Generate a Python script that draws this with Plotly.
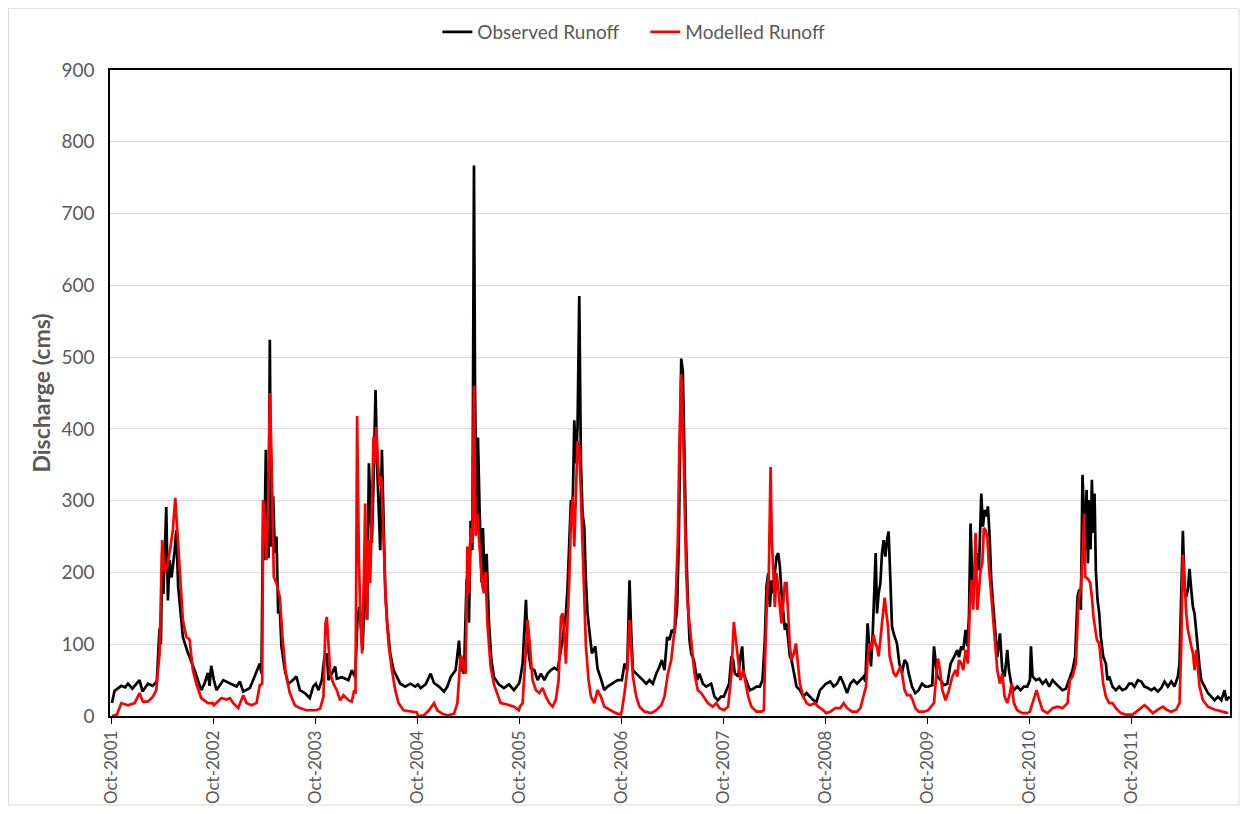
import pandas as pd
import plotly.graph_objects as go

# Observed runoff (decimal calendar year, discharge in cms)
obs_year = [
    2001.750, 2001.776, 2001.842, 2001.880, 2001.907, 2001.950, 2002.021, 2002.050, 2002.103, 2002.150, 2002.190, 2002.217, 2002.230, 2002.243, 2002.255, 2002.283, 2002.299, 2002.315, 2002.335, 2002.365, 2002.381, 2002.400, 2002.446, 2002.495, 2002.560, 2002.626, 2002.658, 2002.691, 2002.708, 2002.724,
    2002.750, 2002.776, 2002.842, 2002.907, 2002.972, 2003.005, 2003.038, 2003.103, 2003.152, 2003.201, 2003.217, 2003.234, 2003.243, 2003.260, 2003.273, 2003.286, 2003.299, 2003.312, 2003.332, 2003.348, 2003.364, 2003.381, 2003.397, 2003.413, 2003.446, 2003.479, 2003.511, 2003.560, 2003.593, 2003.642, 2003.691, 2003.724,
    2003.750, 2003.776, 2003.809, 2003.835, 2003.858, 2003.874, 2003.907, 2003.940, 2003.956, 2004.005, 2004.070, 2004.103, 2004.136, 2004.158, 2004.175, 2004.191, 2004.208, 2004.224, 2004.237, 2004.253, 2004.270, 2004.286, 2004.299, 2004.315, 2004.335, 2004.351, 2004.364, 2004.381, 2004.397, 2004.413, 2004.430, 2004.449, 2004.479, 2004.511, 2004.544, 2004.577, 2004.626, 2004.675, 2004.724,
    2004.750, 2004.776, 2004.825, 2004.874, 2004.907, 2004.956, 2005.005, 2005.038, 2005.070, 2005.119, 2005.152, 2005.168, 2005.201, 2005.227, 2005.250, 2005.266, 2005.283, 2005.299, 2005.309, 2005.325, 2005.338, 2005.355, 2005.374, 2005.387, 2005.404, 2005.423, 2005.446, 2005.469, 2005.495, 2005.544, 2005.593, 2005.642, 2005.691, 2005.740,
    2005.750, 2005.776, 2005.809, 2005.825, 2005.858, 2005.891, 2005.923, 2005.956, 2005.989, 2006.021, 2006.054, 2006.087, 2006.119, 2006.168, 2006.201, 2006.217, 2006.234, 2006.250, 2006.266, 2006.283, 2006.299, 2006.315, 2006.332, 2006.348, 2006.364, 2006.381, 2006.397, 2006.413, 2006.430, 2006.456, 2006.489, 2006.511, 2006.544, 2006.577, 2006.609, 2006.658, 2006.708,
    2006.750, 2006.776, 2006.802, 2006.825, 2006.842, 2006.858, 2006.891, 2006.923, 2006.956, 2006.989, 2007.021, 2007.054, 2007.087, 2007.119, 2007.142, 2007.168, 2007.194, 2007.217, 2007.240, 2007.266, 2007.292, 2007.309, 2007.322, 2007.332, 2007.348, 2007.364, 2007.381, 2007.397, 2007.413, 2007.430, 2007.456, 2007.489, 2007.511, 2007.544, 2007.577, 2007.626, 2007.658, 2007.691, 2007.724,
    2007.750, 2007.776, 2007.802, 2007.825, 2007.842, 2007.858, 2007.891, 2007.913, 2007.930, 2007.946, 2007.972, 2008.005, 2008.038, 2008.070, 2008.103, 2008.129, 2008.152, 2008.168, 2008.185, 2008.201, 2008.217, 2008.234, 2008.250, 2008.266, 2008.283, 2008.299, 2008.315, 2008.332, 2008.348, 2008.364, 2008.381, 2008.397, 2008.413, 2008.436, 2008.462, 2008.495, 2008.528, 2008.560, 2008.593, 2008.626, 2008.658, 2008.691, 2008.724,
    2008.750, 2008.792, 2008.825, 2008.858, 2008.891, 2008.923, 2008.956, 2008.989, 2009.021, 2009.054, 2009.087, 2009.119, 2009.136, 2009.158, 2009.175, 2009.191, 2009.208, 2009.224, 2009.237, 2009.250, 2009.266, 2009.283, 2009.299, 2009.315, 2009.332, 2009.348, 2009.364, 2009.381, 2009.397, 2009.413, 2009.446, 2009.469, 2009.495, 2009.521, 2009.544, 2009.560, 2009.593, 2009.626, 2009.658, 2009.691, 2009.724,
    2009.750, 2009.792, 2009.809, 2009.825, 2009.842, 2009.874, 2009.907, 2009.940, 2009.972, 2010.005, 2010.038, 2010.054, 2010.077, 2010.096, 2010.119, 2010.136, 2010.152, 2010.168, 2010.185, 2010.201, 2010.217, 2010.234, 2010.250, 2010.273, 2010.289, 2010.306, 2010.322, 2010.338, 2010.355, 2010.371, 2010.387, 2010.407, 2010.430, 2010.456, 2010.479, 2010.502, 2010.528, 2010.544, 2010.567, 2010.593, 2010.626, 2010.658, 2010.691, 2010.724,
    2010.750, 2010.760, 2010.776, 2010.809, 2010.842, 2010.874, 2010.907, 2010.940, 2010.972, 2011.005, 2011.038, 2011.070, 2011.103, 2011.136, 2011.168, 2011.194, 2011.217, 2011.234, 2011.250, 2011.266, 2011.279, 2011.292, 2011.306, 2011.319, 2011.332, 2011.345, 2011.358, 2011.371, 2011.384, 2011.397, 2011.413, 2011.430, 2011.446, 2011.469, 2011.495, 2011.511, 2011.528, 2011.560, 2011.593, 2011.626, 2011.658, 2011.691, 2011.724,
    2011.750, 2011.776, 2011.809, 2011.842, 2011.874, 2011.907, 2011.940, 2011.972, 2012.005, 2012.038, 2012.070, 2012.103, 2012.136, 2012.168, 2012.201, 2012.217, 2012.234, 2012.250, 2012.266, 2012.283, 2012.299, 2012.315, 2012.332, 2012.348, 2012.364, 2012.381, 2012.397, 2012.413, 2012.430, 2012.462, 2012.495, 2012.528, 2012.560, 2012.593, 2012.626, 2012.658, 2012.675, 2012.708,
]
obs_cms = [
    18, 35, 42, 40, 45, 38, 50, 34, 45, 42, 48, 122, 100, 227, 170, 291, 161, 217, 193, 230, 259, 180, 110, 88, 64, 36, 45, 60, 42, 70,
    50, 36, 50, 46, 41, 48, 34, 39, 55, 73, 59, 301, 217, 371, 227, 220, 524, 236, 306, 227, 250, 143, 148, 97, 64, 45, 48, 55, 36, 32, 25, 41,
    45, 36, 50, 83, 87, 50, 59, 69, 52, 54, 50, 64, 54, 134, 152, 130, 92, 152, 231, 134, 352, 301, 241, 324, 454, 347, 301, 231, 371, 273, 176, 129, 87, 64, 55, 45, 41, 45, 41,
    44, 39, 44, 59, 46, 41, 34, 41, 54, 64, 105, 68, 59, 191, 130, 272, 231, 767, 459, 262, 388, 282, 186, 262, 181, 226, 130, 79, 54, 44, 39, 44, 36, 45,
    50, 73, 162, 97, 66, 64, 50, 59, 50, 59, 64, 67, 64, 106, 143, 180, 236, 301, 280, 412, 352, 403, 585, 352, 282, 264, 189, 143, 120, 87, 97, 66, 52, 36, 41, 45, 50,
    50, 73, 64, 189, 115, 64, 59, 55, 50, 45, 50, 45, 59, 69, 78, 64, 110, 106, 120, 115, 152, 250, 408, 498, 480, 338, 236, 162, 106, 87, 78, 50, 59, 45, 41, 45, 27, 22, 27,
    27, 36, 45, 83, 78, 59, 55, 83, 97, 59, 50, 36, 38, 41, 41, 50, 106, 180, 199, 152, 189, 171, 199, 222, 227, 208, 171, 138, 120, 129, 106, 83, 78, 59, 41, 36, 27, 32, 27, 22, 20, 36, 41,
    45, 48, 41, 45, 55, 45, 32, 45, 50, 45, 50, 55, 48, 129, 96, 69, 115, 165, 227, 143, 171, 185, 227, 245, 222, 245, 257, 190, 125, 115, 101, 73, 60, 78, 73, 60, 41, 32, 36, 45, 41,
    41, 43, 97, 73, 55, 50, 43, 45, 73, 82, 92, 82, 97, 92, 120, 97, 138, 268, 189, 208, 194, 227, 203, 310, 264, 287, 278, 292, 250, 189, 157, 120, 82, 115, 64, 55, 92, 64, 45, 36, 41, 36, 41, 41,
    50, 97, 55, 50, 52, 45, 50, 41, 50, 45, 41, 36, 38, 50, 64, 83, 166, 176, 148, 336, 278, 232, 315, 213, 301, 232, 329, 255, 310, 203, 162, 143, 110, 83, 73, 50, 55, 41, 36, 41, 36, 38, 45,
    45, 41, 50, 48, 41, 39, 36, 39, 34, 39, 48, 41, 48, 41, 55, 73, 189, 258, 180, 166, 176, 205, 176, 152, 143, 115, 97, 69, 50, 41, 32, 27, 22, 27, 22, 36, 22, 27,
]

# Modelled runoff (decimal calendar year, discharge in cms)
mod_year = [
    2001.750, 2001.800, 2001.842, 2001.907, 2001.972, 2002.021, 2002.054, 2002.103, 2002.152, 2002.185, 2002.217, 2002.243, 2002.266, 2002.291, 2002.325, 2002.348, 2002.371, 2002.391, 2002.413, 2002.446, 2002.479, 2002.511, 2002.544, 2002.577, 2002.626, 2002.691, 2002.740,
    2002.750, 2002.825, 2002.874, 2002.907, 2002.940, 2002.989, 2003.038, 2003.070, 2003.119, 2003.168, 2003.201, 2003.224, 2003.234, 2003.250, 2003.266, 2003.283, 2003.299, 2003.315, 2003.338, 2003.364, 2003.397, 2003.423, 2003.456, 2003.495, 2003.544, 2003.593, 2003.658, 2003.724,
    2003.750, 2003.792, 2003.825, 2003.845, 2003.858, 2003.874, 2003.891, 2003.923, 2003.956, 2003.989, 2004.021, 2004.070, 2004.103, 2004.126, 2004.139, 2004.155, 2004.172, 2004.188, 2004.204, 2004.221, 2004.234, 2004.250, 2004.266, 2004.283, 2004.299, 2004.315, 2004.328, 2004.342, 2004.358, 2004.374, 2004.391, 2004.413, 2004.436, 2004.462, 2004.495, 2004.528, 2004.560, 2004.609, 2004.675, 2004.740,
    2004.750, 2004.809, 2004.858, 2004.907, 2004.940, 2004.989, 2005.038, 2005.103, 2005.136, 2005.152, 2005.168, 2005.185, 2005.201, 2005.217, 2005.234, 2005.250, 2005.266, 2005.283, 2005.299, 2005.315, 2005.332, 2005.348, 2005.364, 2005.381, 2005.397, 2005.413, 2005.430, 2005.462, 2005.495, 2005.528, 2005.560, 2005.626, 2005.691, 2005.740,
    2005.750, 2005.776, 2005.802, 2005.825, 2005.848, 2005.874, 2005.907, 2005.940, 2005.972, 2006.005, 2006.038, 2006.070, 2006.103, 2006.129, 2006.152, 2006.168, 2006.185, 2006.201, 2006.217, 2006.234, 2006.250, 2006.266, 2006.283, 2006.299, 2006.315, 2006.332, 2006.348, 2006.364, 2006.381, 2006.397, 2006.423, 2006.446, 2006.479, 2006.511, 2006.544, 2006.577, 2006.626, 2006.691, 2006.740,
    2006.750, 2006.776, 2006.802, 2006.825, 2006.842, 2006.858, 2006.891, 2006.923, 2006.972, 2007.038, 2007.087, 2007.136, 2007.168, 2007.201, 2007.234, 2007.266, 2007.283, 2007.299, 2007.315, 2007.332, 2007.348, 2007.364, 2007.381, 2007.397, 2007.413, 2007.436, 2007.462, 2007.495, 2007.528, 2007.560, 2007.593, 2007.642, 2007.675, 2007.708,
    2007.750, 2007.792, 2007.825, 2007.848, 2007.868, 2007.891, 2007.913, 2007.940, 2007.966, 2007.989, 2008.021, 2008.070, 2008.119, 2008.142, 2008.158, 2008.175, 2008.191, 2008.208, 2008.221, 2008.234, 2008.250, 2008.266, 2008.283, 2008.299, 2008.315, 2008.332, 2008.348, 2008.364, 2008.381, 2008.397, 2008.413, 2008.436, 2008.456, 2008.472, 2008.495, 2008.528, 2008.560, 2008.593, 2008.642, 2008.675, 2008.724,
    2008.750, 2008.792, 2008.842, 2008.891, 2008.923, 2008.956, 2009.005, 2009.054, 2009.087, 2009.119, 2009.142, 2009.158, 2009.175, 2009.194, 2009.217, 2009.234, 2009.250, 2009.266, 2009.283, 2009.306, 2009.325, 2009.342, 2009.358, 2009.374, 2009.397, 2009.413, 2009.436, 2009.462, 2009.479, 2009.495, 2009.521, 2009.544, 2009.577, 2009.600, 2009.626, 2009.658, 2009.708,
    2009.750, 2009.809, 2009.835, 2009.848, 2009.868, 2009.891, 2009.923, 2009.956, 2009.989, 2010.021, 2010.038, 2010.054, 2010.077, 2010.096, 2010.119, 2010.142, 2010.162, 2010.178, 2010.194, 2010.217, 2010.234, 2010.250, 2010.266, 2010.283, 2010.299, 2010.315, 2010.332, 2010.348, 2010.364, 2010.381, 2010.404, 2010.430, 2010.456, 2010.479, 2010.502, 2010.528, 2010.554, 2010.570, 2010.593, 2010.626, 2010.675, 2010.724,
    2010.750, 2010.792, 2010.815, 2010.842, 2010.874, 2010.923, 2010.972, 2011.021, 2011.070, 2011.119, 2011.142, 2011.168, 2011.201, 2011.227, 2011.250, 2011.266, 2011.283, 2011.292, 2011.325, 2011.342, 2011.358, 2011.374, 2011.391, 2011.407, 2011.430, 2011.446, 2011.469, 2011.495, 2011.528, 2011.560, 2011.593, 2011.642, 2011.691, 2011.740,
    2011.750, 2011.776, 2011.825, 2011.874, 2011.907, 2011.956, 2012.005, 2012.054, 2012.087, 2012.136, 2012.185, 2012.217, 2012.234, 2012.250, 2012.266, 2012.283, 2012.299, 2012.315, 2012.332, 2012.348, 2012.364, 2012.381, 2012.397, 2012.413, 2012.446, 2012.495, 2012.560, 2012.626, 2012.691,
]
mod_cms = [
    0, 2, 18, 15, 18, 32, 20, 20, 27, 36, 87, 245, 200, 207, 236, 260, 304, 259, 200, 134, 110, 107, 64, 45, 25, 18, 18,
    15, 25, 23, 25, 18, 11, 29, 18, 15, 18, 43, 45, 301, 273, 217, 292, 450, 366, 194, 185, 166, 110, 59, 32, 15, 11, 8, 8,
    8, 10, 27, 129, 138, 101, 59, 45, 36, 22, 29, 22, 20, 36, 31, 418, 222, 129, 87, 194, 296, 134, 245, 185, 278, 389, 352, 403, 357, 320, 334, 245, 157, 101, 64, 36, 18, 8, 7, 5,
    0, 1, 8, 18, 8, 3, 1, 3, 18, 54, 84, 80, 64, 59, 236, 171, 262, 241, 460, 251, 282, 247, 206, 181, 171, 201, 130, 69, 44, 29, 18, 16, 13, 8,
    13, 18, 73, 134, 97, 50, 36, 32, 39, 27, 18, 13, 23, 50, 138, 143, 115, 73, 134, 189, 273, 306, 236, 306, 383, 375, 310, 236, 162, 97, 50, 27, 18, 36, 27, 13, 9, 4, 2,
    8, 32, 64, 134, 97, 55, 27, 13, 6, 4, 8, 15, 27, 59, 78, 120, 180, 245, 385, 476, 408, 292, 199, 152, 129, 97, 59, 36, 32, 25, 18, 13, 18, 11,
    8, 13, 59, 131, 106, 69, 50, 64, 45, 27, 13, 6, 6, 8, 97, 171, 199, 347, 245, 199, 152, 199, 180, 152, 129, 157, 185, 185, 143, 97, 78, 87, 101, 78, 45, 27, 18, 15, 18, 13, 8,
    4, 6, 11, 11, 18, 11, 6, 6, 11, 27, 41, 78, 101, 92, 113, 101, 96, 83, 106, 143, 165, 143, 125, 83, 69, 60, 55, 64, 69, 60, 36, 29, 29, 22, 11, 6, 6,
    8, 18, 64, 80, 64, 36, 22, 36, 55, 64, 55, 78, 73, 64, 92, 73, 157, 189, 148, 255, 148, 176, 203, 213, 262, 259, 250, 208, 180, 148, 101, 64, 45, 59, 27, 18, 32, 45, 18, 8, 4, 4,
    6, 27, 36, 22, 8, 4, 11, 13, 11, 18, 50, 55, 73, 162, 180, 222, 282, 194, 190, 185, 166, 138, 120, 106, 101, 73, 45, 27, 18, 18, 11, 4, 2, 2,
    1, 4, 9, 15, 11, 4, 9, 13, 9, 6, 9, 18, 97, 225, 189, 143, 120, 106, 97, 88, 64, 92, 69, 41, 22, 13, 9, 6, 4,
]

series_names = ["Observed Runoff", "Modelled Runoff"]
tick_years = list(range(2001, 2012))
tick_labels = [f"Oct-{y}" for y in tick_years]

assert len(obs_year) == len(obs_cms)
assert len(mod_year) == len(mod_cms)


def to_date(y):
    yr = int(y)
    start = pd.Timestamp(yr, 1, 1)
    end = pd.Timestamp(yr + 1, 1, 1)
    return start + (end - start) * (y - yr)


obs_dates = [to_date(v) for v in obs_year]
mod_dates = [to_date(v) for v in mod_year]
tick_dates = [pd.Timestamp(y, 10, 1) for y in tick_years]

GREY = "#595959"
FONT = "Lato, 'Open Sans', sans-serif"

fig = go.Figure()
fig.add_trace(go.Scatter(x=obs_dates, y=obs_cms, mode="lines", name=series_names[0],
                         line=dict(color="#000000", width=2.7)))
fig.add_trace(go.Scatter(x=mod_dates, y=mod_cms, mode="lines", name=series_names[1],
                         line=dict(color="#ff0000", width=2.7)))

# page body adds an 8px offset, so the figure is sized/margined to compensate
fig.update_layout(
    width=1232, height=798,
    margin=dict(l=102, r=10, t=62, b=90),
    paper_bgcolor="white", plot_bgcolor="white",
    font=dict(family=FONT, color=GREY, size=17),
    showlegend=True,
    legend=dict(orientation="h", x=0.478, xanchor="center",
                yref="container", y=0.970, yanchor="middle",
                font=dict(size=19, color=GREY, family=FONT), bgcolor="rgba(0,0,0,0)",
                itemwidth=30, entrywidth=163, entrywidthmode="pixels"),
    xaxis=dict(
        type="date", automargin=False,
        range=[to_date(2001.731), to_date(2012.711)],
        tickvals=tick_dates, ticktext=tick_labels, tickangle=-90,
        tickfont=dict(size=17, color=GREY, family=FONT),
        showgrid=False, zeroline=False,
        showline=True, linecolor="#000000", linewidth=1.5, mirror=True,
        ticks="outside", ticklen=6, tickcolor="#000000", tickwidth=1,
    ),
    yaxis=dict(
        range=[0, 900], dtick=100, tick0=0, automargin=False,
        tickfont=dict(size=19, color=GREY, family=FONT),
        showgrid=True, gridcolor="#d9d9d9", gridwidth=1,
        zeroline=False,
        showline=True, linecolor="#000000", linewidth=1.5, mirror=True,
        ticks="", ticklabelstandoff=10,
        title=dict(text="<b>Discharge (cms)</b>", font=dict(size=23, color=GREY, family=FONT), standoff=4),
    ),
    shapes=[dict(type="rect", xref="paper", yref="paper",
                 x0=-0.0906, x1=1.0080, y0=-0.1378, y1=1.0955,
                 line=dict(color="#d9d9d9", width=1), fillcolor="rgba(0,0,0,0)", layer="below")],
)

fig.write_html("out.html")
